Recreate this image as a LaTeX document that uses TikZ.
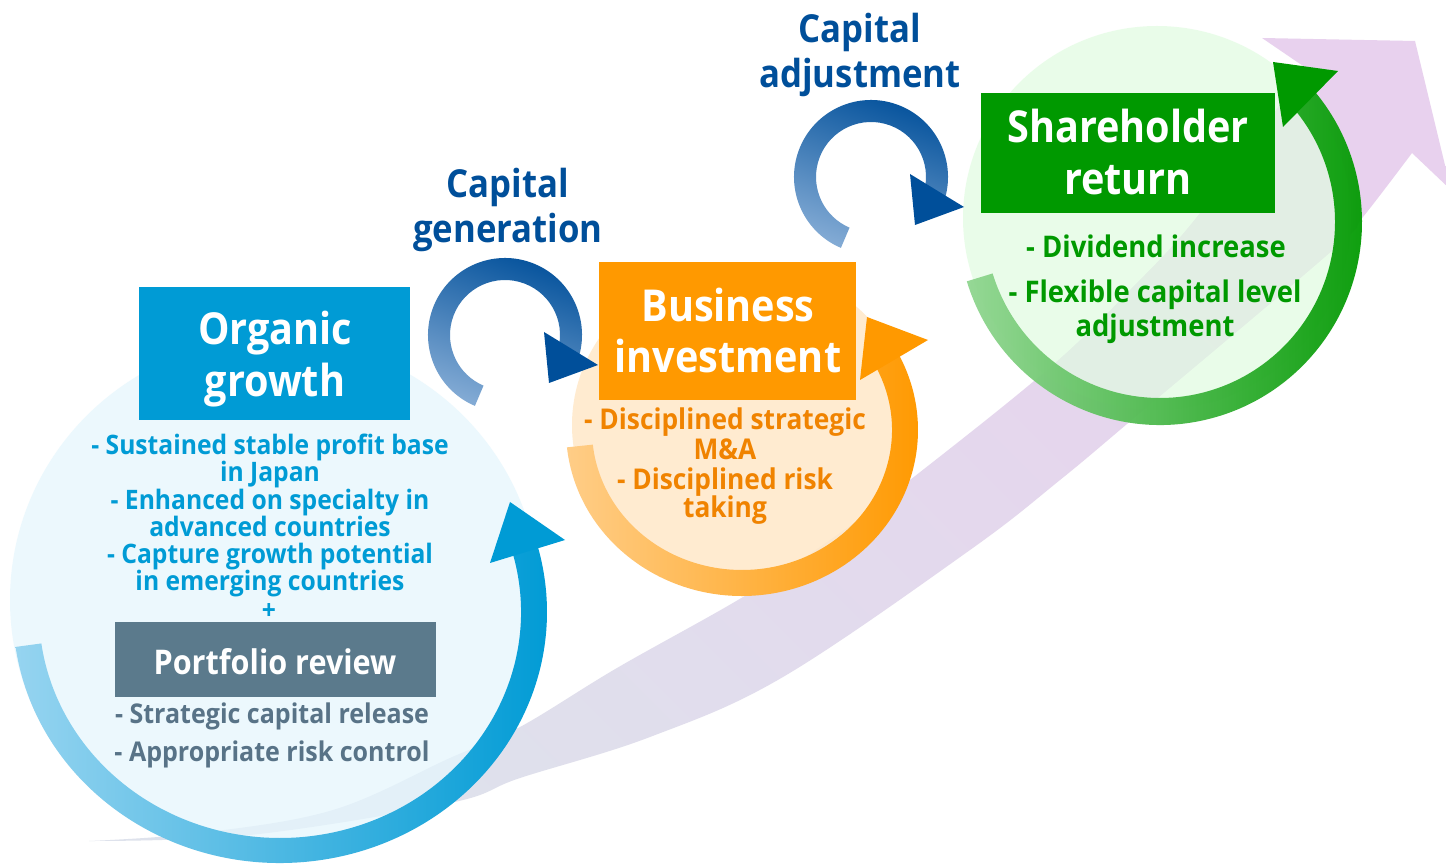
\documentclass[tikz,border=0pt]{standalone}
\usepackage{fontspec}
\newfontfamily\ttl{Open Sans}[FakeStretch=0.9]
\newfontfamily\bdy{Open Sans}[FakeStretch=0.92]
\definecolor{blueD}{RGB}{0,155,213}
\definecolor{blueL}{RGB}{150,212,240}
\definecolor{blueF}{RGB}{229,246,253}
\definecolor{navy}{RGB}{0,79,154}
\definecolor{navyL}{RGB}{130,170,212}
\definecolor{orgD}{RGB}{255,153,0}
\definecolor{orgL}{RGB}{255,205,135}
\definecolor{orgF}{RGB}{255,233,202}
\definecolor{orgT}{RGB}{240,131,0}
\definecolor{grnD}{RGB}{0,153,0}
\definecolor{grnL}{RGB}{145,214,145}
\definecolor{grnF}{RGB}{224,252,224}
\definecolor{slate}{RGB}{91,122,140}
\definecolor{slateT}{RGB}{88,115,135}
\definecolor{bandA}{RGB}{222,226,236}
\definecolor{bandM}{RGB}{223,217,234}
\definecolor{bandB}{RGB}{232,209,238}
\begin{document}
\begin{tikzpicture}[x=0.5pt,y=-0.5pt,
  ttlA/.style={font=\ttl\bfseries\fontsize{22}{26}\selectfont, text=white, anchor=base, inner sep=0pt},
  prtxt/.style={font=\ttl\bfseries\fontsize{17}{20}\selectfont, text=white, anchor=base, inner sep=0pt},
  caplbl/.style={font=\ttl\bfseries\fontsize{19.3}{22}\selectfont, text=navy, anchor=base, inner sep=0pt},
  bluetxt/.style={font=\bdy\bfseries\fontsize{13.4}{15}\selectfont, text=blueD, anchor=base, inner sep=0pt},
  graytxt/.style={font=\bdy\bfseries\fontsize{13.6}{15}\selectfont, text=slateT, anchor=base, inner sep=0pt},
  orgtxt/.style={font=\bdy\bfseries\fontsize{14.3}{16}\selectfont, text=orgT, anchor=base, inner sep=0pt},
  grntxt/.style={font=\bdy\bfseries\fontsize{14.9}{17}\selectfont, text=grnD, anchor=base, inner sep=0pt},
  navyarrow/.pic={
    \shade[left color=navyL, middle color=navy, right color=navy, shading angle=160]
      ({77*cos(-247)},{77*sin(-247)}) arc[start angle=-247, end angle=15, radius=77]
      -- ({55*cos(15)},{55*sin(15)}) arc[start angle=15, end angle=-247, radius=55] -- cycle;
    \fill[navy] (39,-3) -- (93,30) -- (44,48) -- cycle;
  }]
\useasboundingbox (0,0) rectangle (1446,865);
\clip (0,0) rectangle (1446,865);
\fill[white] (0,0) rectangle (1446,865);

% big background arrow
\shade[left color=bandA, middle color=bandM, right color=bandB, shading angle=135]
  plot[smooth, tension=0.6] coordinates {(89,841) (200,833) (333,810) (450,758) (520,727) (617,668) (743,597) (830,540) (910,480) (1047,370) (1130,290) (1200,213) (1306,68)}
  -- (1262,38) -- (1415,41) -- (1451,190) -- (1412,153)
  -- plot[smooth, tension=0.6] coordinates {(1412,153) (1363,217) (1333,250) (1140,413) (1060,480) (970,550) (783,677) (650,737) (520,778) (450,803) (250,835) (89,841)} -- cycle;

% circle fills
\fill[blueF, fill opacity=0.72] (275,600) ellipse[x radius=265, y radius=262];
\fill[orgF, fill opacity=0.88] (742,425) ellipse[x radius=170, y radius=160];
\fill[grnF, fill opacity=0.68] (1157,218) ellipse[x radius=194, y radius=192];

% blue ring
\shade[left color=blueL, middle color=blueD!85!blueL, right color=blueD]
  (280,612) ++({267*cos(-188)},{251*sin(-188)}) arc[start angle=-188, end angle=-376, x radius=267, y radius=251]
  -- ({280+241*cos(-376)},{612+226*sin(-376)}) arc[start angle=-376, end angle=-188, x radius=241, y radius=226] -- cycle;
\fill[blueD] (510,502) -- (490,563) -- (565,540) -- cycle;

% orange ring
\shade[left color=orgL, middle color=orgD!80!orgL, right color=orgD]
  (742,430) ++({176*cos(-186)},{166*sin(-186)}) arc[start angle=-186, end angle=-389, x radius=176, y radius=166]
  -- ({742+150*cos(-389)},{430+140*sin(-389)}) arc[start angle=-389, end angle=-186, x radius=150, y radius=140] -- cycle;
\fill[orgD] (867,317) -- (860,380) -- (928,340) -- cycle;

% green ring
\shade[left color=grnL, middle color=grnD!75!grnL, right color=grnD, opacity=0.95]
  (1160,222) ++({202*cos(-197)},{203*sin(-197)}) arc[start angle=-197, end angle=-400, x radius=202, y radius=203]
  -- ({1160+175*cos(-400)},{222+176*sin(-400)}) arc[start angle=-400, end angle=-197, x radius=175, y radius=176] -- cycle;
\fill[grnD] (1273,62) -- (1283,127) -- (1338,71) -- cycle;

% boxes
\fill[blueD] (139,287) rectangle (410,420);
\fill[orgD] (599,262) rectangle (856,400);
\fill[grnD] (981,93) rectangle (1275,213);
\fill[slate] (115,622) rectangle (436,697);

% circular arrows
\pic at (505,335) {navyarrow};
\pic at (871,177) {navyarrow};

% titles
\node[ttlA] (og1) at (275,345) {Organic};
\node[ttlA] (og2) at (275,397) {growth};
\node[ttlA] (bi1) at (728,322) {Business};
\node[ttlA] (bi2) at (728,373) {investment};
\node[ttlA] (sr1) at (1128,143) {Shareholder};
\node[ttlA] (sr2) at (1128,195) {return};
\node[prtxt] (pr) at (275,675) {Portfolio review};

% capital labels
\node[caplbl] (cg1) at (508,198) {Capital};
\node[caplbl] (cg2) at (508,243) {generation};
\node[caplbl] (ca1) at (860,43) {Capital};
\node[caplbl] (ca2) at (860,88) {adjustment};

% organic growth bullets
\node[bluetxt] (b1) at (270,455) {- Sustained stable profit base};
\node[bluetxt] (b2) at (270,482) {in Japan};
\node[bluetxt] (b3) at (270,510) {- Enhanced on specialty in};
\node[bluetxt] (b4) at (270,537) {advanced countries};
\node[bluetxt] (b5) at (270,564) {- Capture growth potential};
\node[bluetxt] (b6) at (270,591) {in emerging countries};
\node[bluetxt] (b7) at (269,620) {+};

% portfolio bullets
\node[graytxt] (g1) at (272,723) {- Strategic capital release};
\node[graytxt] (g2) at (272,762) {- Appropriate risk control};

% business investment bullets
\node[orgtxt] (o1) at (725,430) {- Disciplined strategic};
\node[orgtxt] (o2) at (725,460) {M\&A};
\node[orgtxt] (o3) at (725,490) {- Disciplined risk};
\node[orgtxt] (o4) at (725,518) {taking};

% shareholder bullets
\node[grntxt] (s1) at (1156,258) {- Dividend increase};
\node[grntxt] (s2) at (1155,303) {- Flexible capital level};
\node[grntxt] (s3) at (1155,337) {adjustment};
\end{tikzpicture}
\end{document}
